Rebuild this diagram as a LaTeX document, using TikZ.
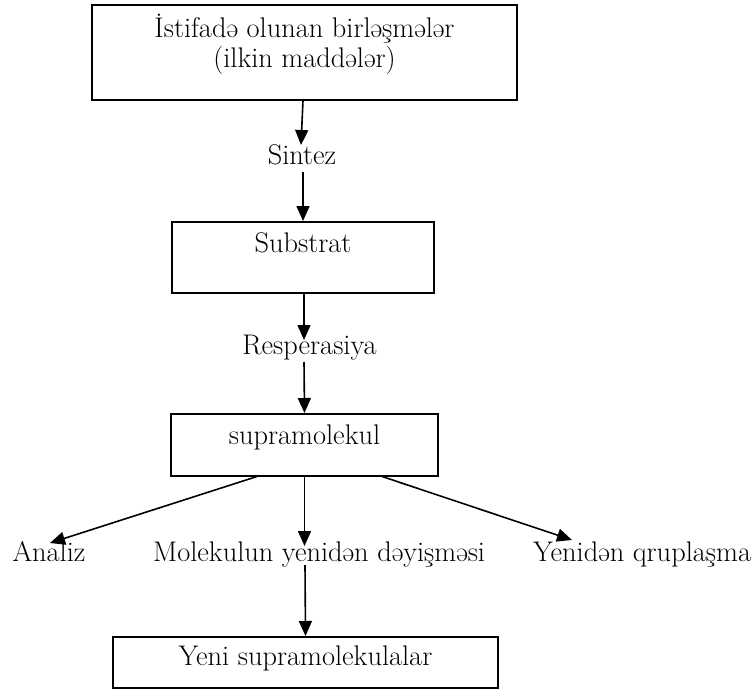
\documentclass[tikz,border=0pt]{standalone}
\usepackage{fontspec}
\usetikzlibrary{arrows.meta,calc}
\begin{document}
\begin{tikzpicture}[x=1bp,y=-1bp,
  font=\fontsize{28.5}{30}\selectfont\addfontfeatures{FakeBold=1.5},
  box/.style={draw, line width=1.6bp, rectangle, inner xsep=0pt, inner ysep=0pt, anchor=north},
  lbl/.style={inner sep=0pt, anchor=base},
  arr/.style={line width=1.6bp, -{Triangle[length=15bp,width=13bp]}}]
\path[use as bounding box, fill=white] (0,0) rectangle (752,690);

\node[box, minimum width=425bp, text height=63bp, text depth=32bp] (top) at (304.5,4)
  {\begin{tabular}[b]{@{}c@{}}İstifadə olunan birləşmələr\\(ilkin maddələr)\end{tabular}};
\node[lbl] (sintez) at (302,164) {Sintez};
\node[box, minimum width=262bp, text height=31bp, text depth=40bp] (substrat) at (303,221) {Substrat};
\node[lbl] (resp) at (309.5,354) {Resperasiya};
\node[box, minimum width=267bp, text height=31bp, text depth=31bp] (supra) at (304.5,413) {supramolekul};
\node[lbl] (analiz) at (49,561) {Analiz};
\node[lbl, anchor=base west] (molek) at (153,561) {Molekulun yenidən dəyişməsi};
\node[lbl, anchor=base west] (qrup) at (533,561) {Yenidən qruplaşma};
\node[box, minimum width=385bp, text height=29bp, text depth=22bp] (yeni) at (305.5,636) {Yeni supramolekulalar};

\coordinate (s1) at (301,145);
\coordinate (s2) at (303,172);
\coordinate (r1) at (304,340);
\coordinate (r2) at (304,362);
\coordinate (a1) at (50,543);
\coordinate (m1) at (304.5,546);
\coordinate (q1) at (572,540);
\coordinate (m2) at (305,565);

\draw[arr] ([xshift=-1.5bp]top.south) -- (s1);
\draw[arr] (s2) -- (substrat.north);
\draw[arr] ([xshift=1bp]substrat.south) -- (r1);
\draw[arr] (r2) -- (supra.north);
\draw[arr] ($(supra.south west)!0.322!(supra.south east)$) -- (a1);
\draw[arr] (supra.south) -- (m1);
\draw[arr] ($(supra.south west)!0.79!(supra.south east)$) -- (q1);
\draw[arr] (m2) -- (yeni.north);
\end{tikzpicture}
\end{document}
